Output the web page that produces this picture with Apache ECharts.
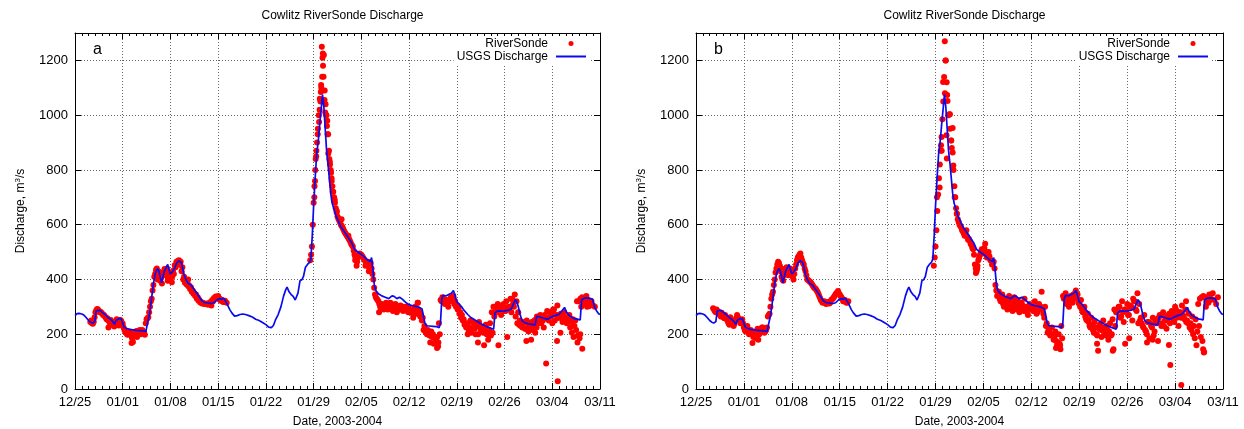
<!DOCTYPE html>
<html><head><meta charset="utf-8">
<script src="https://cdn.jsdelivr.net/npm/echarts@6/dist/echarts.min.js"></script>
<style>html,body{margin:0;padding:0;background:#fff}#c{width:1244px;height:429px}</style>
</head><body><div id="c"></div>
<script>
// x values are days since 2003-12-25 00:00
const xTickLabels = ['12/25','01/01','01/08','01/15','01/22','01/29','02/05','02/12','02/19','02/26','03/04','03/11'];
const yTicks = [0,200,400,600,800,1000,1200];

// USGS discharge (day, m3/s)
const usgsDay = [0,0.3,0.6,1.0,1.3,1.6,2.0,2.3,2.6,2.9,3.1,3.3,3.6,4.0,4.4,4.8,5.2,5.5,5.8,6.0,6.2,6.5,6.8,7.0,7.2,7.5,8.0,8.5,9.0,9.5,10.0,10.4,10.6,10.9,11.2,11.5,11.8,12.1,12.3,12.5,12.7,12.9,13.1,13.4,13.6,13.8,14.0,14.3,14.6,14.9,15.2,15.4,15.6,15.8,16.0,16.3,16.6,17.0,17.4,17.8,18.2,18.6,19.0,19.5,20.0,20.4,20.8,21.2,21.5,21.8,22.1,22.4,22.7,23.0,23.4,23.8,24.2,24.6,25.0,25.5,26.0,26.5,27.0,27.5,28.0,28.4,28.8,29.1,29.4,29.8,30.2,30.6,30.9,31.1,31.4,31.7,32.0,32.3,32.5,32.7,33.0,33.3,33.5,33.8,34.1,34.4,34.6,34.8,35.0,35.2,35.45,35.7,35.9,36.1,36.3,36.5,36.7,36.9,37.1,37.3,37.5,37.7,38.0,38.3,38.6,39.0,39.4,39.8,40.2,40.6,41.0,41.4,41.8,42.2,42.6,43.0,43.3,43.5,43.7,43.9,44.1,44.5,45.0,45.5,46.0,46.5,46.8,47.2,47.6,48.0,48.5,49.0,49.5,50.0,50.5,50.9,51.1,51.3,51.6,52.0,52.5,53.0,53.4,53.6,53.8,54.0,54.4,54.8,55.2,55.5,55.7,56.0,56.3,56.7,57.1,57.6,58.0,58.5,58.9,59.3,59.7,60.2,60.6,61.0,61.4,61.6,61.9,62.3,62.8,63.2,63.6,64.0,64.3,64.6,64.8,65.0,65.3,65.6,66.0,66.5,67.0,67.5,67.7,68.0,68.4,68.8,69.3,69.8,70.2,70.6,71.0,71.4,71.8,72.1,72.5,73.0,73.4,73.8,74.1,74.3,74.7,75.1,75.5,75.9,76.2,76.5,76.8,77.0];
const usgsQ = [268,275,276,274,270,262,250,244,241,246,285,290,288,280,272,262,255,248,236,250,256,258,255,248,226,222,218,216,214,213,212,210,236,270,325,385,425,440,432,410,388,410,430,445,455,435,420,428,440,460,468,472,462,440,418,398,386,380,366,352,338,322,316,314,312,315,325,330,328,332,320,305,290,278,266,268,272,274,272,268,263,255,250,243,235,226,224,232,252,272,300,340,362,372,355,345,338,325,322,350,395,400,410,445,455,462,475,560,670,760,860,910,968,1020,1075,1030,950,870,825,770,715,680,655,630,615,592,578,563,548,533,510,502,495,488,478,470,465,480,436,380,360,348,340,335,330,340,338,330,335,328,316,308,304,302,298,292,290,242,230,230,229,228,224,240,330,342,340,345,350,360,345,318,312,300,286,272,262,255,248,242,236,230,226,222,218,278,284,285,284,286,288,292,310,326,318,302,270,248,242,238,236,234,265,264,261,258,255,262,266,270,273,285,298,280,268,260,256,254,252,325,332,333,331,328,300,285,275,272];

// RiverSonde samples: every 6 h per segment, a second interleaved set offset by 3 h, plus extra points
const rsStep = 0.25, rsHalf = 0.125;
const rsAStart1 = 2.25, rsAStart2 = 34.5;
const rsA1 = [245,240,246,280,292,285,282,275,270,262,258,250,252,240,228,245,252,248,250,238,215,205,198,210,195,172,205,212,200,215,205,210,198,255,262,300,330,380,420,440,430,395,385,415,430,440,415,400,410,420,445,460,470,465,445,410,390,385,378,372,360,350,345,335,325,318,315,312,310,308,315,305,320,330,335,340,330,325,318,322,315];
const rsA1h = [250,238,262,288,290,280,278,270,265,255,250,240,235,245,240,255,250,252,242,225,210,200,205,200,185,200,208,205,210,200,215,205,240,258,280,320,360,410,435,420,400,405,425,438,425,405,405,415,432,452,465,468,455,430,400,388,382,375,365,355,348,340,330,322,316,312,311,310,312,310,318,325,332,338,335,328,322,320,318];
const rsA2 = [470,520,680,800,900,1000,1050,1140,1220,1040,980,870,800,740,700,660,630,615,600,590,575,565,555,545,530,520,490,470,480,495,490,480,470,460,465,450,440,400,345,330,320,300,310,305,295,310,300,315,300,295,310,300,290,305,295,300,290,285,295,280,290,275,285,315,280,270,260,230,205,215,195,210,200,185,175,155,200,320,330,310,325,300,320,330,340,320,305,295,280,270,255,240,230,210,250,220,240,200,230,245,215,225,210,235,200,215,195,205,265,295,310,290,270,300,285,320,290,300,280,310,345,320,280,250,230,240,220,250,210,235,245,230,205,265,240,270,255,225,260,285,250,265,240,290,270,305,260,275,245,280,260,250,270,245,255,230,215,195,185,300,330,310,340,325,315,320,305,300];
const rsA2h = [490,600,740,850,950,1020,1100,1180,1090,1000,930,830,770,720,680,645,622,608,595,582,570,560,550,538,525,505,480,465,488,492,485,475,465,455,445,460,420,370,335,325,310,295,305,300,315,290,305,310,285,300,305,295,300,290,285,295,300,280,290,285,270,300,275,290,265,250,215,210,200,205,195,190,165,180,190,240,325,335,320,315,310,325,335,330,310,300,290,275,260,250,235,225,240,225,205,245,220,235,200,230,220,205,225,200,210,240,280,300,300,280,290,305,295,310,285,295,300,330,330,300,265,240,235,230,225,245,220,240,225,240,215,250,255,260,245,240,250,270,260,255,280,280,290,250,270,260,270,265,255,260,240,250,225,205,190,250,320,320,330,335,320,318,312,302];
const rsAExtra = [[4.9,225],[6.4,232],[8.3,168],[9.1,190],[12.1,400],[13.6,395],[14.2,390],[15.1,455],[16.6,400],[35.1,700],[35.2,760],[35.3,840],[35.4,870],[35.6,930],[35.8,975],[35.9,1060],[36.05,1085],[36.1,1110],[36.2,1250],[36.3,1210],[36.35,1225],[36.45,1140],[36.6,1055],[36.7,1010],[36.85,1000],[36.95,960],[37.05,930],[37.15,860],[37.3,840],[37.4,820],[37.55,790],[37.65,760],[37.8,720],[38.1,690],[38.4,650],[39.1,620],[40.1,560],[41.1,470],[41.3,450],[42.6,450],[43.1,430],[44.6,280],[45.3,290],[47.2,280],[49.6,260],[50.3,315],[52.1,170],[53.1,150],[53.3,170],[57.6,200],[59.1,170],[60.0,160],[60.6,180],[62.1,160],[63.4,190],[66.2,175],[66.9,180],[67.7,225],[69.1,93],[70.7,175],[70.8,28],[71.2,205],[73.7,170],[74.1,200],[74.4,147],[75.1,300]];

const rsBStart1 = 2.5, rsBStart2 = 34.75;
const rsB1 = [295,285,290,280,270,278,262,270,255,240,262,245,230,250,270,255,240,255,225,210,230,200,215,168,205,185,220,200,215,225,205,215,265,275,330,355,400,440,465,450,410,395,430,445,415,440,420,400,440,470,485,495,470,455,430,400,395,390,380,370,365,355,340,325,315,320,310,318,312,325,330,340,350,358,345,335,320,325,315,320];
const rsB1h = [290,280,285,275,265,270,258,262,248,235,255,240,238,258,262,248,245,240,215,220,215,205,200,190,210,195,205,210,225,215,210,225,270,300,345,380,425,455,460,430,400,415,440,430,425,430,410,420,455,480,490,480,460,440,415,398,392,385,375,368,360,348,332,320,318,315,312,315,318,328,335,345,352,350,340,330,322,318,316];
const rsB2 = [450,520,650,770,870,985,1139,1200,1052,1003,907,864,740,660,620,600,590,575,560,580,545,540,525,510,455,430,470,490,510,495,530,480,500,470,455,465,380,340,355,320,345,300,330,290,340,310,285,335,300,325,280,315,295,330,290,270,310,300,285,320,275,305,290,355,275,300,240,215,195,225,180,210,160,200,145,185,330,350,320,300,340,315,335,360,345,310,325,280,300,255,275,230,260,215,245,200,140,235,190,250,210,230,180,240,200,145,230,280,300,260,320,245,290,310,270,300,250,320,290,350,310,260,230,270,210,245,185,230,260,210,240,175,270,230,280,250,220,265,240,285,255,300,260,230,280,305,265,290,250,275,240,265,230,255,210,230,190,175,135,300,320,345,330,350,325,310,335];
const rsB2h = [480,580,710,820,920,1050,1080,1120,1000,950,880,800,700,640,610,595,580,568,570,555,548,530,515,490,440,450,480,500,505,515,500,490,485,470,460,440,360,345,330,335,310,320,300,315,325,300,310,320,290,305,300,310,285,300,280,295,305,290,300,290,280,310,300,290,260,230,205,210,200,195,190,175,170,165,230,340,335,310,325,330,320,345,350,330,315,300,290,280,265,250,245,225,235,205,225,195,220,215,225,205,195,215,210,195,255,290,280,290,300,265,280,290,285,270,305,300,330,320,285,240,250,240,225,215,200,245,240,225,195,250,255,260,240,270,230,265,250,275,270,275,245,290,270,280,260,270,255,245,240,225,215,200,185,160,310,330,335,340,335,320,315,325];
const rsBExtra = [[9.1,180],[12.5,440],[15.1,470],[35.2,700],[35.6,736],[35.8,890],[35.9,870],[36.1,1121],[36.35,1270],[36.45,1200],[36.6,927],[36.65,842],[36.7,1074],[37.1,1003],[37.3,907],[37.5,953],[37.6,816],[37.8,700],[38.1,640],[40.9,424],[41.1,440],[52.6,150],[53.2,160],[58.6,165],[60.9,140],[62.7,165],[63.3,185],[65.9,170],[66.7,180],[69.1,161],[69.3,88],[70.9,15],[74.1,145],[74.2,133],[71.6,320]];

const seg = (start, vals) => vals.map((v, i) => [start + i * rsStep, v]);
const usgs = usgsDay.map((d, i) => [d, usgsQ[i]]);
const rsA = [].concat(seg(rsAStart1, rsA1), seg(rsAStart1 + rsHalf, rsA1h), seg(rsAStart2, rsA2), seg(rsAStart2 + rsHalf, rsA2h), rsAExtra);
const rsB = [].concat(seg(rsBStart1, rsB1), seg(rsBStart1 + rsHalf, rsB1h), seg(rsBStart2, rsB2), seg(rsBStart2 + rsHalf, rsB2h), rsBExtra);

const FONT = 'Liberation Sans, Arial, sans-serif';
const grids = [{left:75, right:644, top:33, bottom:40, outerBoundsMode:'none', containLabel:false},
               {left:696, right:21, top:33, bottom:40, outerBoundsMode:'none', containLabel:false}];
const centers = [337.5, 959.5];
const panelTags = ['a', 'b'];

const xAxes = [], yAxes = [], series = [], titles = [], legends = [];
grids.forEach((g, i) => {
  const common = {type:'value', gridIndex:i, min:0, max:77, interval:7,
    axisLine:{show:true, onZero:false, lineStyle:{color:'#000', width:1}},
    axisTick:{show:true, inside:true, length:6, lineStyle:{color:'#000'}},
    minorTick:{show:true, splitNumber:7, length:3, lineStyle:{color:'#000'}}};
  xAxes.push(Object.assign({}, common, {position:'bottom',
    axisLabel:{color:'#000', fontSize:13, fontFamily:FONT, margin:7, formatter: v => xTickLabels[Math.round(v/7)] || ''},
    splitLine:{show:true, lineStyle:{type:[1,2], color:'#666', width:1}},
    name:'Date, 2003-2004', nameLocation:'middle', nameGap:27,
    nameTextStyle:{color:'#000', fontSize:12, fontFamily:FONT}}));
  xAxes.push(Object.assign({}, common, {position:'top', axisLabel:{show:false}, splitLine:{show:false}}));
  const ycommon = {type:'value', gridIndex:i, min:0, max:1300, interval:200,
    axisLine:{show:true, onZero:false, lineStyle:{color:'#000', width:1}},
    axisTick:{show:true, inside:true, length:6, lineStyle:{color:'#000'}}};
  yAxes.push(Object.assign({}, ycommon, {position:'left',
    axisLabel:{color:'#000', fontSize:13, fontFamily:FONT, margin:7, formatter: v => yTicks.indexOf(v) >= 0 ? String(v) : ''},
    splitLine:{show:true, lineStyle:{type:[1,2], color:'#666', width:1}},
    name:'Discharge, m{sup|3}/s', nameLocation:'middle', nameGap:47,
    nameTextStyle:{color:'#000', fontSize:12, fontFamily:FONT,
      rich:{sup:{fontSize:8, fontFamily:FONT, color:'#000', verticalAlign:'top', padding:[0,0,6,0]}}}}));
  yAxes.push(Object.assign({}, ycommon, {position:'right', axisLabel:{show:false}, splitLine:{show:false}}));
  series.push({name:'RiverSonde', type:'scatter', xAxisIndex:2*i, yAxisIndex:2*i,
    data: i === 0 ? rsA : rsB, symbol:'circle', symbolSize:6,
    itemStyle:{color:'#ff0000', opacity:1}, z:2});
  series.push({name:'USGS Discharge', type:'line', xAxisIndex:2*i, yAxisIndex:2*i,
    data: usgs, showSymbol:false, symbol:'none', lineStyle:{color:'#0a0af0', width:1.7}, z:3});
  titles.push({text:'Cowlitz RiverSonde Discharge', left:centers[i], textAlign:'center', top:5,
    textStyle:{fontSize:12, fontWeight:'normal', color:'#000', fontFamily:FONT}});
  titles.push({text:panelTags[i], left:g.left + 13, top:37,
    textStyle:{fontSize:16, fontWeight:'normal', color:'#000', fontFamily:FONT}});
  const rightEdge = i === 0 ? 590 : 1212;
  legends.push({data:[{name:'RiverSonde', icon:'circle'}, {name:'USGS Discharge', itemStyle:{opacity:0}}], orient:'vertical',
    right: 1244 - rightEdge, top:36, align:'right', itemWidth:30, itemHeight:5, itemGap:0,
    backgroundColor:'#fff', padding:[1,3], selectedMode:false,
    textStyle:{color:'#000', fontSize:12, lineHeight:13, fontFamily:FONT, padding:[0,3,0,0]}});
});

const chart = echarts.init(document.getElementById('c'), null, {renderer:'canvas'});
chart.setOption({animation:false, backgroundColor:'#fff', title:titles, legend:legends,
  grid:grids, xAxis:xAxes, yAxis:yAxes, series:series});
</script></body></html>
